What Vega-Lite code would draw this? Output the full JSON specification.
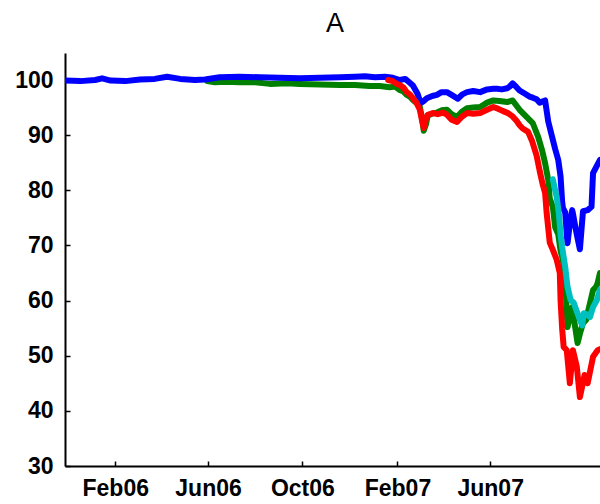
{
  "$schema": "https://vega.github.io/schema/vega-lite/v6.json",
  "width": 535,
  "height": 413,
  "autosize": {"type": "none"},
  "padding": {"left": 65, "top": 53, "right": 0, "bottom": 38},
  "background": "white",
  "config": {"view": {"stroke": null}},
  "title": {"text": "A", "font": "Liberation Sans", "fontSize": 27, "fontWeight": "normal", "frame": "group", "anchor": "middle", "dx": 2.5, "dy": 27, "offset": 21, "baseline": "alphabetic", "color": "black"},
  "datasets": {
    "series": [
      {"s":"blue","t":"2005-11-28","v":99.9},{"s":"blue","t":"2005-12-18","v":99.8},{"s":"blue","t":"2006-01-06","v":100.0},{"s":"blue","t":"2006-01-15","v":100.3},{"s":"blue","t":"2006-01-26","v":99.9},{"s":"blue","t":"2006-02-14","v":99.8},{"s":"blue","t":"2006-03-05","v":100.1},{"s":"blue","t":"2006-03-24","v":100.2},{"s":"blue","t":"2006-04-09","v":100.6},{"s":"blue","t":"2006-04-26","v":100.2},{"s":"blue","t":"2006-05-15","v":100.0},{"s":"blue","t":"2006-05-28","v":100.1},{"s":"blue","t":"2006-06-16","v":100.5},{"s":"blue","t":"2006-07-12","v":100.6},{"s":"blue","t":"2006-08-07","v":100.5},{"s":"blue","t":"2006-09-02","v":100.4},{"s":"blue","t":"2006-09-28","v":100.3},{"s":"blue","t":"2006-10-24","v":100.4},{"s":"blue","t":"2006-11-19","v":100.5},{"s":"blue","t":"2006-12-08","v":100.6},{"s":"blue","t":"2006-12-21","v":100.7},{"s":"blue","t":"2007-01-03","v":100.5},{"s":"blue","t":"2007-01-16","v":100.6},{"s":"blue","t":"2007-01-26","v":100.4},{"s":"blue","t":"2007-02-04","v":100.0},{"s":"blue","t":"2007-02-11","v":100.2},{"s":"blue","t":"2007-02-17","v":99.5},{"s":"blue","t":"2007-02-21","v":99.0},{"s":"blue","t":"2007-02-27","v":97.5},{"s":"blue","t":"2007-03-03","v":95.8},{"s":"blue","t":"2007-03-07","v":96.2},{"s":"blue","t":"2007-03-11","v":96.7},{"s":"blue","t":"2007-03-18","v":97.1},{"s":"blue","t":"2007-03-24","v":97.3},{"s":"blue","t":"2007-03-30","v":97.8},{"s":"blue","t":"2007-04-06","v":97.8},{"s":"blue","t":"2007-04-12","v":97.3},{"s":"blue","t":"2007-04-20","v":96.6},{"s":"blue","t":"2007-04-26","v":97.4},{"s":"blue","t":"2007-05-02","v":97.8},{"s":"blue","t":"2007-05-10","v":98.0},{"s":"blue","t":"2007-05-19","v":97.8},{"s":"blue","t":"2007-05-28","v":98.3},{"s":"blue","t":"2007-06-05","v":98.4},{"s":"blue","t":"2007-06-10","v":98.4},{"s":"blue","t":"2007-06-16","v":98.3},{"s":"blue","t":"2007-06-23","v":98.5},{"s":"blue","t":"2007-06-26","v":98.8},{"s":"blue","t":"2007-06-30","v":99.4},{"s":"blue","t":"2007-07-05","v":98.7},{"s":"blue","t":"2007-07-09","v":98.1},{"s":"blue","t":"2007-07-16","v":97.5},{"s":"blue","t":"2007-07-22","v":97.0},{"s":"blue","t":"2007-07-26","v":96.8},{"s":"blue","t":"2007-07-31","v":96.5},{"s":"blue","t":"2007-08-04","v":95.9},{"s":"blue","t":"2007-08-11","v":96.3},{"s":"blue","t":"2007-08-15","v":92.5},{"s":"blue","t":"2007-08-20","v":89.7},{"s":"blue","t":"2007-08-24","v":87.5},{"s":"blue","t":"2007-08-28","v":85.5},{"s":"blue","t":"2007-08-31","v":82.5},{"s":"blue","t":"2007-09-02","v":78.0},{"s":"blue","t":"2007-09-03","v":76.8},{"s":"blue","t":"2007-09-06","v":76.0},{"s":"blue","t":"2007-09-08","v":72.0},{"s":"blue","t":"2007-09-09","v":70.4},{"s":"blue","t":"2007-09-12","v":74.0},{"s":"blue","t":"2007-09-15","v":76.4},{"s":"blue","t":"2007-09-16","v":75.8},{"s":"blue","t":"2007-09-18","v":74.2},{"s":"blue","t":"2007-09-21","v":72.0},{"s":"blue","t":"2007-09-25","v":69.3},{"s":"blue","t":"2007-09-29","v":76.2},{"s":"blue","t":"2007-10-05","v":76.4},{"s":"blue","t":"2007-10-10","v":77.0},{"s":"blue","t":"2007-10-12","v":83.1},{"s":"blue","t":"2007-10-16","v":84.2},{"s":"blue","t":"2007-10-21","v":85.5},
      {"s":"green","t":"2006-05-31","v":99.8},{"s":"green","t":"2006-06-10","v":99.6},{"s":"green","t":"2006-06-23","v":99.7},{"s":"green","t":"2006-07-12","v":99.6},{"s":"green","t":"2006-08-01","v":99.6},{"s":"green","t":"2006-08-20","v":99.3},{"s":"green","t":"2006-09-11","v":99.4},{"s":"green","t":"2006-09-28","v":99.3},{"s":"green","t":"2006-10-24","v":99.2},{"s":"green","t":"2006-11-19","v":99.1},{"s":"green","t":"2006-12-08","v":99.1},{"s":"green","t":"2006-12-27","v":98.9},{"s":"green","t":"2007-01-09","v":98.9},{"s":"green","t":"2007-01-22","v":98.7},{"s":"green","t":"2007-01-29","v":98.8},{"s":"green","t":"2007-02-04","v":98.2},{"s":"green","t":"2007-02-09","v":97.9},{"s":"green","t":"2007-02-13","v":97.3},{"s":"green","t":"2007-02-17","v":97.0},{"s":"green","t":"2007-02-21","v":96.4},{"s":"green","t":"2007-02-26","v":95.8},{"s":"green","t":"2007-03-02","v":95.1},{"s":"green","t":"2007-03-05","v":93.0},{"s":"green","t":"2007-03-07","v":90.8},{"s":"green","t":"2007-03-10","v":92.0},{"s":"green","t":"2007-03-12","v":93.5},{"s":"green","t":"2007-03-18","v":93.9},{"s":"green","t":"2007-03-24","v":94.1},{"s":"green","t":"2007-03-30","v":94.5},{"s":"green","t":"2007-04-06","v":94.6},{"s":"green","t":"2007-04-12","v":93.8},{"s":"green","t":"2007-04-19","v":93.3},{"s":"green","t":"2007-04-25","v":94.2},{"s":"green","t":"2007-05-02","v":94.9},{"s":"green","t":"2007-05-10","v":95.0},{"s":"green","t":"2007-05-19","v":95.1},{"s":"green","t":"2007-05-28","v":95.9},{"s":"green","t":"2007-06-05","v":96.3},{"s":"green","t":"2007-06-13","v":96.2},{"s":"green","t":"2007-06-23","v":96.0},{"s":"green","t":"2007-06-30","v":96.3},{"s":"green","t":"2007-07-09","v":94.6},{"s":"green","t":"2007-07-18","v":93.3},{"s":"green","t":"2007-07-26","v":92.2},{"s":"green","t":"2007-08-02","v":89.7},{"s":"green","t":"2007-08-07","v":87.3},{"s":"green","t":"2007-08-11","v":84.9},{"s":"green","t":"2007-08-15","v":81.9},{"s":"green","t":"2007-08-17","v":78.5},{"s":"green","t":"2007-08-21","v":77.0},{"s":"green","t":"2007-08-24","v":73.3},{"s":"green","t":"2007-08-28","v":72.0},{"s":"green","t":"2007-08-31","v":69.0},{"s":"green","t":"2007-09-03","v":67.4},{"s":"green","t":"2007-09-07","v":61.0},{"s":"green","t":"2007-09-09","v":55.2},{"s":"green","t":"2007-09-12","v":57.0},{"s":"green","t":"2007-09-15","v":58.8},{"s":"green","t":"2007-09-18","v":56.0},{"s":"green","t":"2007-09-22","v":52.3},{"s":"green","t":"2007-09-25","v":54.0},{"s":"green","t":"2007-09-29","v":55.9},{"s":"green","t":"2007-10-03","v":56.5},{"s":"green","t":"2007-10-05","v":57.7},{"s":"green","t":"2007-10-08","v":59.5},{"s":"green","t":"2007-10-12","v":61.9},{"s":"green","t":"2007-10-16","v":62.5},{"s":"green","t":"2007-10-18","v":63.2},{"s":"green","t":"2007-10-21","v":65.0},
      {"s":"red","t":"2007-01-20","v":100.0},{"s":"red","t":"2007-01-26","v":99.8},{"s":"red","t":"2007-01-31","v":99.3},{"s":"red","t":"2007-02-04","v":99.1},{"s":"red","t":"2007-02-09","v":98.6},{"s":"red","t":"2007-02-13","v":97.8},{"s":"red","t":"2007-02-17","v":97.4},{"s":"red","t":"2007-02-21","v":96.7},{"s":"red","t":"2007-02-26","v":95.8},{"s":"red","t":"2007-03-02","v":94.6},{"s":"red","t":"2007-03-05","v":92.5},{"s":"red","t":"2007-03-07","v":91.3},{"s":"red","t":"2007-03-10","v":93.0},{"s":"red","t":"2007-03-12","v":93.7},{"s":"red","t":"2007-03-19","v":94.0},{"s":"red","t":"2007-03-25","v":93.8},{"s":"red","t":"2007-04-01","v":94.1},{"s":"red","t":"2007-04-06","v":93.7},{"s":"red","t":"2007-04-12","v":92.8},{"s":"red","t":"2007-04-19","v":92.4},{"s":"red","t":"2007-04-25","v":93.3},{"s":"red","t":"2007-05-02","v":94.0},{"s":"red","t":"2007-05-10","v":93.9},{"s":"red","t":"2007-05-19","v":94.0},{"s":"red","t":"2007-05-28","v":94.6},{"s":"red","t":"2007-06-05","v":95.1},{"s":"red","t":"2007-06-11","v":94.8},{"s":"red","t":"2007-06-17","v":94.4},{"s":"red","t":"2007-06-24","v":94.0},{"s":"red","t":"2007-06-30","v":93.4},{"s":"red","t":"2007-07-05","v":92.6},{"s":"red","t":"2007-07-09","v":91.8},{"s":"red","t":"2007-07-13","v":91.2},{"s":"red","t":"2007-07-20","v":90.6},{"s":"red","t":"2007-07-25","v":89.0},{"s":"red","t":"2007-07-31","v":86.3},{"s":"red","t":"2007-08-04","v":83.5},{"s":"red","t":"2007-08-08","v":81.0},{"s":"red","t":"2007-08-11","v":79.5},{"s":"red","t":"2007-08-13","v":75.9},{"s":"red","t":"2007-08-17","v":70.5},{"s":"red","t":"2007-08-21","v":69.2},{"s":"red","t":"2007-08-26","v":67.4},{"s":"red","t":"2007-08-30","v":65.0},{"s":"red","t":"2007-08-31","v":60.0},{"s":"red","t":"2007-09-02","v":55.0},{"s":"red","t":"2007-09-04","v":51.6},{"s":"red","t":"2007-09-08","v":51.0},{"s":"red","t":"2007-09-12","v":45.0},{"s":"red","t":"2007-09-16","v":51.0},{"s":"red","t":"2007-09-21","v":48.0},{"s":"red","t":"2007-09-25","v":42.5},{"s":"red","t":"2007-10-01","v":46.5},{"s":"red","t":"2007-10-05","v":45.0},{"s":"red","t":"2007-10-12","v":49.8},{"s":"red","t":"2007-10-18","v":51.0},{"s":"red","t":"2007-10-21","v":51.2},
      {"s":"cyan","t":"2007-08-21","v":82.0},{"s":"cyan","t":"2007-08-24","v":80.0},{"s":"cyan","t":"2007-08-26","v":78.8},{"s":"cyan","t":"2007-08-29","v":75.5},{"s":"cyan","t":"2007-08-31","v":72.0},{"s":"cyan","t":"2007-09-02","v":69.7},{"s":"cyan","t":"2007-09-06","v":66.1},{"s":"cyan","t":"2007-09-09","v":62.5},{"s":"cyan","t":"2007-09-13","v":60.1},{"s":"cyan","t":"2007-09-17","v":59.6},{"s":"cyan","t":"2007-09-21","v":58.0},{"s":"cyan","t":"2007-09-25","v":56.5},{"s":"cyan","t":"2007-09-28","v":55.5},{"s":"cyan","t":"2007-09-30","v":57.7},{"s":"cyan","t":"2007-10-04","v":57.5},{"s":"cyan","t":"2007-10-08","v":57.0},{"s":"cyan","t":"2007-10-12","v":58.8},{"s":"cyan","t":"2007-10-17","v":60.1},{"s":"cyan","t":"2007-10-21","v":62.0}
    ]
  },
  "data": {"name": "series"},
  "encoding": {
    "x": {
      "field": "t", "type": "temporal",
      "scale": {"type": "utc", "domain": [{"year": 2005, "month": 11, "date": 28, "utc": true}, {"year": 2007, "month": 10, "date": 21, "utc": true}]},
      "axis": {
        "title": null, "grid": false,
        "values": [{"year": 2006, "month": 2, "date": 1, "utc": true}, {"year": 2006, "month": 6, "date": 1, "utc": true}, {"year": 2006, "month": 10, "date": 1, "utc": true}, {"year": 2007, "month": 2, "date": 1, "utc": true}, {"year": 2007, "month": 6, "date": 1, "utc": true}],
        "format": "%b%y",
        "domainColor": "black", "domainWidth": 2, "tickColor": "black", "tickWidth": 1.5, "tickSize": -5,
        "labelFont": "Liberation Sans", "labelFontSize": 23, "labelFontWeight": "bold", "labelColor": "black",
        "labelPadding": 16, "labelFlush": false, "labelOverlap": false
      }
    },
    "y": {
      "field": "v", "type": "quantitative",
      "scale": {"domain": [30, 104.9], "nice": false, "zero": false},
      "axis": {
        "title": null, "grid": false,
        "values": [30, 40, 50, 60, 70, 80, 90, 100],
        "domainColor": "black", "domainWidth": 2, "tickColor": "black", "tickWidth": 1.5, "tickSize": -5,
        "labelFont": "Liberation Sans", "labelFontSize": 23, "labelFontWeight": "bold", "labelColor": "black",
        "labelPadding": 17, "labelFlush": false, "labelOverlap": false
      }
    }
  },
  "layer": [
    {"transform": [{"filter": "datum.s === 'green'"}], "mark": {"type": "line", "color": "#008000", "strokeWidth": 6, "strokeCap": "round", "strokeJoin": "round", "clip": true}},
    {"transform": [{"filter": "datum.s === 'blue'"}], "mark": {"type": "line", "color": "#0000ff", "strokeWidth": 6, "strokeCap": "round", "strokeJoin": "round", "clip": true}},
    {"transform": [{"filter": "datum.s === 'red'"}], "mark": {"type": "line", "color": "#ff0000", "strokeWidth": 6, "strokeCap": "round", "strokeJoin": "round", "clip": true}},
    {"transform": [{"filter": "datum.s === 'cyan'"}], "mark": {"type": "line", "color": "#00bfbf", "strokeWidth": 6, "strokeCap": "round", "strokeJoin": "round", "clip": true}}
  ]
}
